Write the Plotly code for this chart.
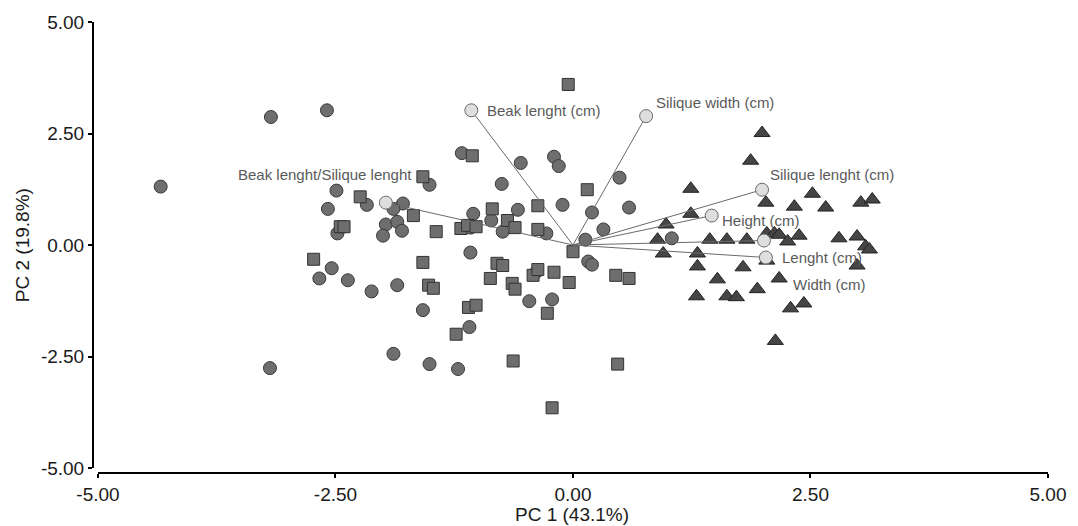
import plotly.graph_objects as go

# ---- data (PC1, PC2 scores) ----
circle_x = [-4.34, -3.18, -2.59, -3.19, -2.49, -2.58, -2.17, -2.48, -1.97, -2.00,
            -2.54, -2.67, -2.37, -2.12, -1.89, -1.08, -1.85, -0.38, -0.46, -0.22,
            -1.58, -1.09, -1.51, -1.21, 0.16, 0.20, -1.17, -0.55, -0.20, -0.15,
            -1.51, -0.75, 0.49, -1.05, -0.58, -0.11, 0.20, 0.59, -1.79, -1.89,
            -1.85, -1.80, -0.86, -1.08, -0.74, -0.28, 0.32, 0.13, 1.04]
circle_y = [1.31, 2.87, 3.02, -2.76, 1.22, 0.81, 0.90, 0.26, 0.46, 0.21,
            -0.52, -0.75, -0.79, -1.04, -2.44, -0.17, -0.90, -0.59, -1.26, -1.22,
            -1.46, -1.84, -2.67, -2.78, -0.37, -0.44, 2.06, 1.84, 1.98, 1.77,
            1.35, 1.37, 1.51, 0.70, 0.79, 0.90, 0.73, 0.84, 0.93, 0.81,
            0.52, 0.32, 0.55, 0.39, 0.30, 0.26, 0.35, 0.12, 0.15]

square_x = [-2.24, -2.45, -2.41, -2.73, -1.58, -0.80, -0.74, -1.52, -1.47, -0.87,
            -0.64, -0.61, -0.42, -0.37, -0.20, -0.04, -0.27, -1.10, -1.02, -1.23,
            -0.63, 0.47, -0.22, 0.00, 0.45, 0.59, -0.05, -1.06, -1.58, 0.15,
            -0.85, -0.37, -1.68, -0.69, -0.61, -1.44, -1.18, -1.11, -1.02, -0.37]
square_y = [1.08, 0.41, 0.41, -0.32, -0.39, -0.41, -0.46, -0.90, -0.97, -0.75,
            -0.86, -0.99, -0.68, -0.55, -0.61, -0.84, -1.53, -1.40, -1.35, -2.00,
            -2.60, -2.67, -3.65, -0.15, -0.68, -0.75, 3.60, 2.00, 1.53, 1.24,
            0.81, 0.88, 0.66, 0.55, 0.39, 0.30, 0.37, 0.44, 0.41, 0.35]

triangle_x = [1.99, 1.87, 1.24, 2.03, 2.33, 2.52, 2.66, 3.03, 3.15, 1.24,
              0.98, 0.89, 1.44, 1.62, 1.83, 2.04, 2.12, 2.17, 2.26, 2.38,
              2.80, 2.99, 3.08, 3.12, 1.79, 2.99, 2.04, 0.95, 1.31, 1.31,
              1.52, 2.17, 1.94, 1.30, 1.62, 1.72, 2.29, 2.43, 2.13]
triangle_y = [2.51, 1.89, 1.26, 0.95, 0.86, 1.15, 0.84, 0.95, 1.02, 0.70,
              0.46, 0.12, 0.12, 0.12, 0.12, 0.26, 0.26, 0.23, 0.08, 0.21,
              0.15, 0.19, -0.03, -0.10, -0.50, -0.46, -0.35, -0.19, -0.19, -0.48,
              -0.77, -0.75, -0.99, -1.15, -1.15, -1.17, -1.42, -1.31, -2.15]

loading_names = ["Beak lenght/Silique lenght", "Beak lenght (cm)", "Silique width (cm)",
                 "Silique lenght (cm)", "Height (cm)", "Width (cm)", "Lenght (cm)"]
loading_x = [-1.97, -1.07, 0.77, 1.99, 1.46, 2.01, 2.03]
loading_y = [0.95, 3.02, 2.89, 1.24, 0.66, 0.10, -0.28]

tick_vals = [-5.0, -2.5, 0.0, 2.5, 5.0]
tick_text = ["-5.00", "-2.50", "0.00", "2.50", "5.00"]

x_title = "PC 1 (43.1%)"
y_title = "PC 2 (19.8%)"

# ---- styles ----
label_style = [  # (xanchor, xshift, yshift) in pixels
    ("right", 28, 28), ("left", 14, 0), ("left", 8, 14), ("left", 6, 15),
    ("left", 8, -5), ("left", 27, -44), ("left", 14, 0),
]
FONT = "Arial, Liberation Sans, sans-serif"

fig = go.Figure()

fig.add_trace(go.Scatter(
    x=circle_x, y=circle_y, mode="markers",
    marker=dict(symbol="circle", size=13, color="#6e6e6e",
                line=dict(color="#3a3a3a", width=1)),
    showlegend=False, hoverinfo="skip"))
fig.add_trace(go.Scatter(
    x=square_x, y=square_y, mode="markers",
    marker=dict(symbol="square", size=12, color="#6e6e6e",
                line=dict(color="#333333", width=1)),
    showlegend=False, hoverinfo="skip"))
fig.add_trace(go.Scatter(
    x=triangle_x, y=triangle_y, mode="markers",
    marker=dict(symbol="triangle-up", size=14, color="#454545",
                line=dict(color="#222222", width=1)),
    showlegend=False, hoverinfo="skip"))

# loading vectors from origin
lx, ly = [], []
for a, b in zip(loading_x, loading_y):
    lx += [0, a, None]
    ly += [0, b, None]
fig.add_trace(go.Scatter(
    x=lx, y=ly, mode="lines", line=dict(color="#6a6a6a", width=1),
    showlegend=False, hoverinfo="skip"))
fig.add_trace(go.Scatter(
    x=loading_x, y=loading_y, mode="markers",
    marker=dict(symbol="circle", size=13, color="#dedede",
                line=dict(color="#6a6a6a", width=1)),
    showlegend=False, hoverinfo="skip"))

for name, a, b, (anc, xs, ys) in zip(loading_names, loading_x, loading_y, label_style):
    fig.add_annotation(x=a, y=b, xref="x", yref="y", text=name, showarrow=False,
                       xanchor=anc, yanchor="middle", xshift=xs, yshift=ys,
                       font=dict(family=FONT, size=15, color="#5a5a5a"))

# axis titles
fig.add_annotation(x=(573 - 93) / 957, y=(473 - 515) / 453, xref="paper", yref="paper",
                   text=x_title, showarrow=False, xanchor="center", yanchor="middle",
                   font=dict(family=FONT, size=19, color="#1a1a1a"))
fig.add_annotation(x=(22 - 93) / 957, y=(473 - 244) / 453, xref="paper", yref="paper",
                   text=y_title, showarrow=False, xanchor="center", yanchor="middle",
                   textangle=-90, font=dict(family=FONT, size=19, color="#1a1a1a"))

axis_common = dict(
    tickvals=tick_vals, ticktext=tick_text, showgrid=False, zeroline=False,
    showline=True, linecolor="black", linewidth=2, ticks="outside", ticklen=4,
    tickwidth=1.5, tickcolor="black", tickfont=dict(family=FONT, size=19, color="#1a1a1a"),
    range=[-5, 5], fixedrange=True,
)

fig.update_layout(
    width=1078, height=526,
    margin=dict(l=93, r=28, t=20, b=53),
    paper_bgcolor="white", plot_bgcolor="white",
    xaxis=dict(**axis_common, domain=[5 / 957, 1], anchor="free", position=0),
    yaxis=dict(**axis_common, domain=[5 / 453, 1], anchor="free", position=0),
)

fig.write_html("out.html")
